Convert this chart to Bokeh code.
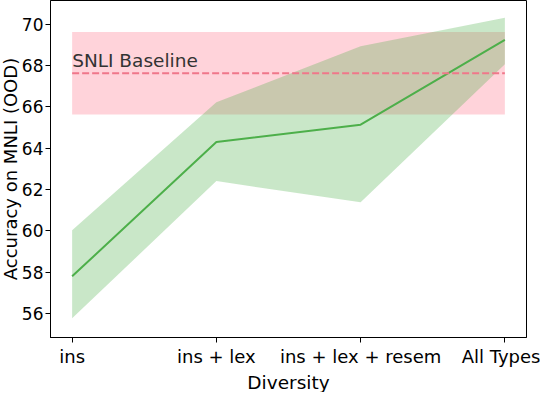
from bokeh.plotting import figure
from bokeh.models import Range1d, FixedTicker, Label, Title
from bokeh.embed import file_html
from bokeh.resources import INLINE

diversity = ["ins", "ins + lex", "ins + lex + resem", "All Types"]
acc_mean = [57.79, 64.29, 65.13, 69.23]
acc_lower = [55.76, 62.40, 61.37, 68.05]
acc_upper = [60.02, 66.21, 68.93, 70.31]

baseline_name = "SNLI Baseline"
baseline_mean = 67.62
baseline_lower = 65.62
baseline_upper = 69.62

y_ticks = [56, 58, 60, 62, 64, 66, 68, 70]
x_title = "Diversity"
y_title = "Accuracy on MNLI (OOD)"

FONT = "DejaVu Sans"
x_idx = list(range(len(diversity)))

p = figure(width=540, height=392, output_backend="svg", toolbar_location=None,
           tools="", x_range=Range1d(-0.15, 3.15), y_range=Range1d(54.83, 71.14),
           min_border_left=49, min_border_right=14, min_border_top=0, min_border_bottom=48)

p.grid.visible = False
p.outline_line_color = "black"
p.outline_line_width = 1

# baseline band + mean
ends = [x_idx[0], x_idx[-1]]
p.varea(x=ends, y1=[baseline_lower] * 2, y2=[baseline_upper] * 2,
        fill_color="#ffc0cb", fill_alpha=0.7)

# model accuracy band + mean
p.varea(x=x_idx, y1=acc_lower, y2=acc_upper, fill_color="#4daf4a", fill_alpha=0.3)
p.line(x_idx, acc_mean, line_color="#4daf4a", line_width=2)

p.line(ends, [baseline_mean] * 2, line_color="#f0778a", line_width=2.2, line_dash="7 3")
p.add_layout(Label(x=x_idx[0], y=baseline_mean, y_offset=2, text=baseline_name,
                   text_font=FONT, text_font_size="18.5px", text_color="#333333",
                   text_baseline="bottom"))

p.xaxis.ticker = FixedTicker(ticks=x_idx)
p.xaxis.major_label_overrides = {i: d for i, d in zip(x_idx, diversity)}
p.yaxis.ticker = FixedTicker(ticks=y_ticks)

for ax in p.axis:
    ax.axis_line_color = "black"
    ax.major_tick_line_color = "black"
    ax.major_tick_out = 5
    ax.major_tick_in = 0
    ax.minor_tick_line_color = None
    ax.major_label_text_font = FONT
    ax.major_label_text_font_size = "18px"
    ax.major_label_text_color = "black"
    ax.major_label_standoff = 3
p.yaxis.major_label_text_font_size = "17px"
p.yaxis.major_label_standoff = 2

# axis titles as side-panel titles
p.add_layout(Title(text=x_title, align="center", text_font=FONT, text_font_size="18.5px",
                   text_font_style="normal", text_color="black", standoff=0), "below")
p.add_layout(Title(text=y_title, align="center", text_font=FONT, text_font_size="18px",
                   text_font_style="normal", text_color="black", standoff=-5), "left")

open("out.html", "w").write(file_html(p, INLINE))
